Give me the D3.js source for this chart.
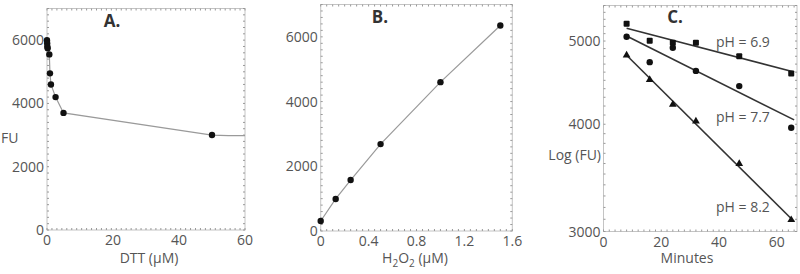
<!DOCTYPE html>
<html>
<head>
<meta charset="UTF-8">
<script src="https://d3js.org/d3.v7.min.js"></script>
<style>
  body { margin: 0; background: #fff; }
  svg text { font-family: "Open Sans", sans-serif; }
  .tick-label { font-size: 14px; fill: #555; }
  .title { font-size: 14px; fill: #555; }
  .letter { font-size: 17px; font-weight: bold; fill: #333; }
</style>
</head>
<body>
<svg width="800" height="274"></svg>
<script>
// Panel A: DTT titration
const dttX = [0, 0.05, 0.1, 0.2, 0.7, 0.9, 1.2, 2.6, 5, 50];
const dttFU = [6000, 5900, 5800, 5740, 5550, 4950, 4600, 4200, 3700, 3000];
const dttLineX = [0, 0.1, 0.7, 0.9, 1.2, 2.6, 5, 50, 55, 60];
const dttLineFU = [5950, 5800, 5550, 4950, 4600, 4200, 3700, 3000, 2985, 2980];

// Panel B: H2O2 standard curve
const h2o2X = [0, 0.125, 0.25, 0.5, 1.0, 1.5];
const h2o2FU = [310, 990, 1575, 2685, 4600, 6350];

// Panel C: decay at three pH values
const minutes = [8, 16, 24, 32, 47, 65];
const fu69 = [5236, 5003, 4977, 4977, 4800, 4582];
const fu77 = [5058, 4725, 4910, 4615, 4431, 3963];
const fu82 = [4813, 4507, 4217, 4032, 3598, 3095];
const fitMin = [8, 66];
const fit69 = [5175, 4602];
const fit77 = [5067, 4047];
const fit82 = [4813, 3082];

const svg = d3.select("svg");

// draws box frame with inward minor ticks and tick labels
function frame(x, y, xTicks, yTicks, xMinor, yMinor, xFmt, yFmt) {
  const [x0, x1] = x.range();
  const [y0, y1] = y.range();
  const g = svg.append("g");
  g.append("rect")
    .attr("x", x0).attr("y", y1)
    .attr("width", x1 - x0).attr("height", y0 - y1)
    .attr("fill", "none").attr("stroke", "#c4c4c4").attr("stroke-width", 1);
  xMinor.forEach(v => {
    const px = x(v);
    g.append("line").attr("x1", px).attr("x2", px).attr("y1", y0).attr("y2", y0 - 2)
      .attr("stroke", "#999");
    g.append("line").attr("x1", px).attr("x2", px).attr("y1", y1).attr("y2", y1 + 2)
      .attr("stroke", "#999");
  });
  yMinor.forEach(v => {
    const py = y(v);
    g.append("line").attr("x1", x0).attr("x2", x0 + 2).attr("y1", py).attr("y2", py)
      .attr("stroke", "#999");
    g.append("line").attr("x1", x1).attr("x2", x1 - 2).attr("y1", py).attr("y2", py)
      .attr("stroke", "#999");
  });
  g.selectAll(".xt").data(xTicks).enter().append("text")
    .attr("class", "tick-label")
    .attr("x", d => x(d)).attr("y", y0 + 15)
    .attr("text-anchor", "middle")
    .text(xFmt);
  g.selectAll(".yt").data(yTicks).enter().append("text")
    .attr("class", "tick-label")
    .attr("x", x0 - 3).attr("y", d => y(d) + 5)
    .attr("text-anchor", "end")
    .text(yFmt);
  return g;
}

function dots(xs, ys, x, y, shape) {
  const g = svg.append("g");
  xs.forEach((v, i) => {
    const px = x(v), py = y(ys[i]);
    if (shape === "square") {
      g.append("rect").attr("x", px - 3).attr("y", py - 3).attr("width", 6).attr("height", 6)
        .attr("rx", 1).attr("fill", "#111");
    } else if (shape === "triangle") {
      g.append("path").attr("d", d3.symbol(d3.symbolTriangle, 26)())
        .attr("transform", `translate(${px},${py})`).attr("fill", "#111");
    } else {
      g.append("circle").attr("cx", px).attr("cy", py).attr("r", 3.2).attr("fill", "#111");
    }
  });
}

function path(xs, ys, x, y, color, width) {
  svg.append("path")
    .datum(xs.map((v, i) => [v, ys[i]]))
    .attr("d", d3.line().x(d => x(d[0])).y(d => y(d[1])))
    .attr("fill", "none").attr("stroke", color).attr("stroke-width", width);
}

// ---- Panel A
const xA = d3.scaleLinear().domain([0, 60]).range([47, 245]);
const yA = d3.scaleLinear().domain([0, 7000]).range([230, 8.5]);
frame(xA, yA, [0, 20, 40, 60], [0, 2000, 4000, 6000],
  d3.range(0, 60.01, 1.5), d3.range(0, 7001, 200), d => d, d => d);
path(dttLineX, dttLineFU, xA, yA, "#9a9a9a", 1.2);
dots(dttX, dttFU, xA, yA, "circle");
svg.append("text").attr("class", "letter").attr("x", 112).attr("y", 27)
  .attr("text-anchor", "middle").text("A.");
svg.append("text").attr("class", "title").attr("x", 1).attr("y", 143).text("FU");
svg.append("text").attr("class", "title").attr("x", 149).attr("y", 263)
  .attr("text-anchor", "middle").text("DTT (µM)");

// ---- Panel B
const xB = d3.scaleLinear().domain([0, 1.6]).range([320.7, 512.3]);
const yB = d3.scaleLinear().domain([0, 7000]).range([231, 4.5]);
frame(xB, yB, [0, 0.4, 0.8, 1.2, 1.6], [0, 2000, 4000, 6000],
  d3.range(0, 1.601, 0.05), d3.range(0, 7001, 200), d => d === 0 ? "0" : d3.format(".1f")(d), d => d);
path(h2o2X, h2o2FU, xB, yB, "#9a9a9a", 1.2);
dots(h2o2X, h2o2FU, xB, yB, "circle");
svg.append("text").attr("class", "letter").attr("x", 380).attr("y", 23)
  .attr("text-anchor", "middle").text("B.");
const tB = svg.append("text").attr("class", "title").attr("x", 415).attr("y", 263)
  .attr("text-anchor", "middle");
tB.append("tspan").text("H");
tB.append("tspan").attr("font-size", 10).attr("dy", 4).text("2");
tB.append("tspan").attr("dy", -4).text("O");
tB.append("tspan").attr("font-size", 10).attr("dy", 4).text("2");
tB.append("tspan").attr("dy", -4).text(" (µM)");

// ---- Panel C
const xC = d3.scaleLinear().domain([0, 67]).range([603.5, 797]);
const yC = d3.scaleLog().domain([3000, 5500]).range([231.5, 5.5]);
frame(xC, yC, [0, 20, 40, 60], [3000, 4000, 5000],
  d3.range(0, 67, 2), d3.range(3000, 5501, 100), d => d, d => d);
path(fitMin, fit69, xC, yC, "#333", 1.6);
path(fitMin, fit77, xC, yC, "#333", 1.6);
path(fitMin, fit82, xC, yC, "#333", 1.6);
dots(minutes, fu69, xC, yC, "square");
dots(minutes, fu77, xC, yC, "circle");
dots(minutes, fu82, xC, yC, "triangle");
svg.append("text").attr("class", "letter").attr("x", 675).attr("y", 23)
  .attr("text-anchor", "middle").text("C.");
svg.append("text").attr("class", "title").attr("x", 687).attr("y", 263)
  .attr("text-anchor", "middle").text("Minutes");
svg.append("text").attr("class", "title").attr("x", 601).attr("y", 160)
  .attr("text-anchor", "end").text("Log (FU)");
const phLabels = [["pH = 6.9", 46.5], ["pH = 7.7", 121.5], ["pH = 8.2", 211.5]];
phLabels.forEach(([t, yy]) => {
  svg.append("text").attr("class", "title").attr("x", 716).attr("y", yy).text(t);
});
</script>
</body>
</html>
